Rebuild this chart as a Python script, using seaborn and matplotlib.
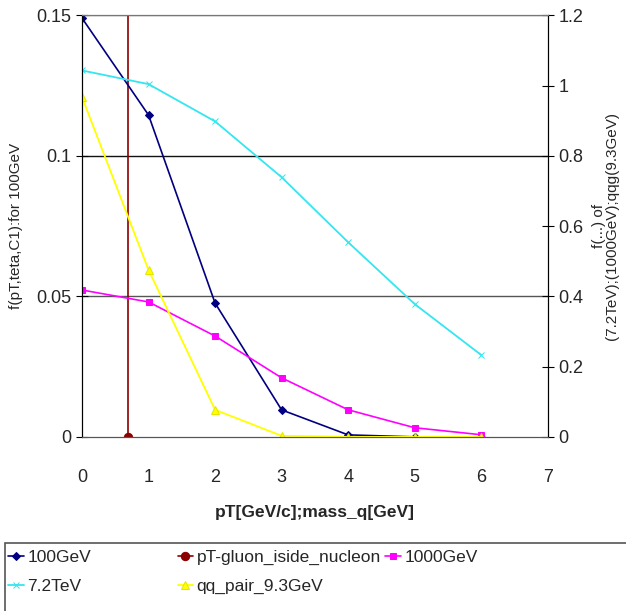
import numpy as np
import pandas as pd
import matplotlib
matplotlib.use("Agg")
import matplotlib.pyplot as plt
from matplotlib.patches import Rectangle
import seaborn as sns

# dados
pt = [0, 1, 2, 3, 4, 5, 6]
gev100 = [0.149, 0.1145, 0.0476, 0.0096, 0.0007, 0.0, 0.0]          # eixo esquerdo
tev72 = [1.043, 1.004, 0.898, 0.739, 0.554, 0.378, 0.233]           # eixo direito
gev1000 = [0.418, 0.384, 0.287, 0.168, 0.077, 0.026, 0.006]         # eixo direito
qq_pair = [0.967, 0.475, 0.077, 0.003, 0.0, 0.0, 0.0]               # eixo direito
gluon_x = [0.69, 0.69]
gluon_y = [0.0, 0.152]

sns.set_style("white")
plt.rcParams["font.family"] = ["Liberation Sans", "DejaVu Sans"]

fig = plt.figure(figsize=(6.26, 6.11), dpi=100)
ax = fig.add_axes([0.131, 0.285, 0.744, 0.69])
ax2 = ax.twinx()

# linhas de grade
for yv, c in [(0.05, "#555555"), (0.1, "#111111"), (0.15, "#777777")]:
    ax.axhline(yv, color=c, lw=1, zorder=0)

opts = dict(estimator=None, errorbar=None, sort=False)

sns.lineplot(x=gluon_x, y=gluon_y, ax=ax, color="#8b0000", lw=1.2, marker="o",
             markersize=6, markeredgecolor="#8b0000", markevery=[0], **opts)
h_gluon = ax.lines[-1]
sns.lineplot(x=pt, y=gev100, ax=ax, color="#000080", lw=1.2, marker="D",
             markersize=4, markeredgecolor="#000080", **opts)
h_100 = ax.lines[-1]

sns.lineplot(x=pt, y=tev72, ax=ax2, color="#33e6f0", lw=1.3, marker="x",
             markersize=5, markeredgecolor="#33e6f0", **opts)
h_72 = ax2.lines[-1]
sns.lineplot(x=pt, y=gev1000, ax=ax2, color="#ff00ff", lw=1.2, marker="s",
             markersize=5, markeredgecolor="#ff00ff", **opts)
h_1000 = ax2.lines[-1]
sns.lineplot(x=pt, y=qq_pair, ax=ax2, color="#ffff00", lw=1.3, marker="^",
             markersize=5.5, markeredgecolor="#e6e600", **opts)
h_qq = ax2.lines[-1]

ax.set_xlim(0, 7)
ax.set_ylim(0, 0.15)
ax2.set_ylim(0, 1.2)
ax.set_xticks(range(8))
ax.set_yticks([0, 0.05, 0.1, 0.15])
ax.set_yticklabels(["0", "0.05", "0.1", "0.15"])
ax2.set_yticks([0, 0.2, 0.4, 0.6, 0.8, 1, 1.2])
ax2.set_yticklabels(["0", "0.2", "0.4", "0.6", "0.8", "1", "1.2"])

ax.tick_params(axis="x", direction="out", length=6, color="#777777", labelsize=13, pad=17)
ax.tick_params(axis="y", direction="inout", length=8, color="black", labelsize=13, left=True)
ax2.tick_params(axis="y", direction="inout", length=8, color="black", labelsize=13, right=True)

for a in (ax, ax2):
    a.spines["top"].set_color("#777777")
    a.spines["bottom"].set_color("#555555")
    a.spines["left"].set_color("black")
    a.spines["right"].set_color("black")
    a.grid(False)

ax.set_xlabel("pT[GeV/c];mass_q[GeV]", fontsize=12.5, fontweight="bold", labelpad=14)
ax.set_ylabel("f(pT,teta,C1):for 100GeV", fontsize=11, labelpad=10)
ax2.set_ylabel("f(...) of\n(7.2TeV);(1000GeV);qqg(9.3GeV)", fontsize=11,
               rotation=90, labelpad=6, linespacing=0.9)

# legenda em caixa na parte de baixo
fig.patches.append(Rectangle((0.008, -0.01), 1.0, 0.121, transform=fig.transFigure,
                             fill=False, edgecolor="#555555", lw=1.2))
cols = [([h_100, h_72], ["100GeV", "7.2TeV"], 0.008),
        ([h_gluon, h_qq], ["pT-gluon_iside_nucleon", "qq_pair_9.3GeV"], 0.278),
        ([h_1000], ["1000GeV"], 0.61)]
for hs, labs, xpos in cols:
    fig.legend(hs, labs, loc="upper left", bbox_to_anchor=(xpos, 0.106), frameon=False,
               fontsize=12.5, handlelength=0.9, handletextpad=0.2, labelspacing=0.8,
               borderaxespad=0, borderpad=0.2)

fig.savefig("out.png", dpi=100)
